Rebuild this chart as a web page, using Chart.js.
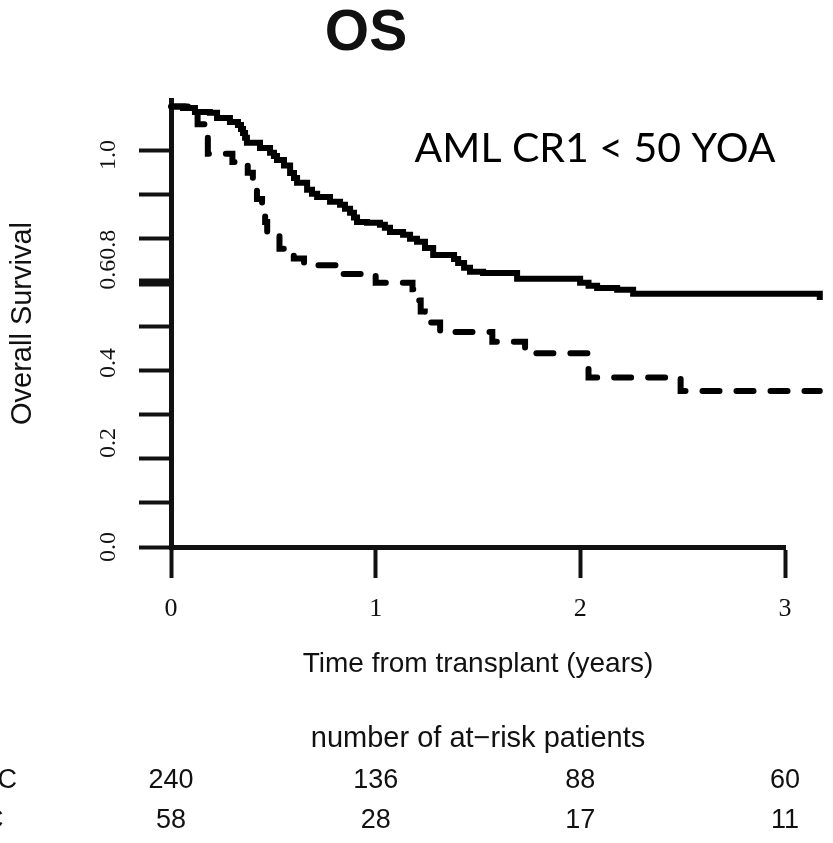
<!DOCTYPE html>
<html>
<head>
<meta charset="utf-8">
<title>OS</title>
<script src="https://cdn.jsdelivr.net/npm/chart.js@4"></script>
<style>
  html, body { margin: 0; padding: 0; background: #fff; }
  #wrap { width: 833px; height: 843px; }
</style>
</head>
<body>
<div id="wrap"><canvas id="os-chart" width="833" height="843"></canvas></div>
<script>
// Kaplan-Meier steps: time (years) where survival drops to the given value
const macTime = [0, 0.059, 0.117, 0.19, 0.225, 0.288, 0.327, 0.342, 0.352, 0.362, 0.371, 0.435, 0.484, 0.503, 0.518, 0.552, 0.582, 0.601, 0.616, 0.665, 0.689, 0.714, 0.777, 0.826, 0.85, 0.875, 0.894, 0.909, 0.958, 1.021, 1.045, 1.07, 1.134, 1.168, 1.202, 1.241, 1.281, 1.383, 1.403, 1.432, 1.461, 1.525, 1.691, 1.999, 2.04, 2.082, 2.18, 2.258, 3.17, 3.20];
const macSurv = [1.0, 0.997, 0.988, 0.986, 0.974, 0.965, 0.958, 0.949, 0.940, 0.929, 0.918, 0.906, 0.895, 0.888, 0.879, 0.866, 0.849, 0.838, 0.827, 0.811, 0.802, 0.795, 0.784, 0.777, 0.768, 0.759, 0.748, 0.738, 0.736, 0.732, 0.725, 0.715, 0.709, 0.700, 0.693, 0.679, 0.663, 0.654, 0.645, 0.634, 0.625, 0.622, 0.609, 0.600, 0.593, 0.588, 0.584, 0.575, 0.561, 0.561];

const ricTime = [0, 0.13, 0.18, 0.30, 0.375, 0.40, 0.42, 0.445, 0.46, 0.47, 0.53, 0.60, 0.65, 0.83, 1.00, 1.18, 1.20, 1.22, 1.24, 1.315, 1.57, 1.73, 2.04, 2.49, 3.17];
const ricSurv = [1.0, 0.96, 0.893, 0.874, 0.85, 0.815, 0.79, 0.772, 0.738, 0.713, 0.677, 0.655, 0.640, 0.620, 0.600, 0.585, 0.56, 0.535, 0.51, 0.488, 0.466, 0.44, 0.385, 0.354, 0.354];

// axes
const xTicks = [0, 1, 2, 3];
const yTickMarks = [0, 0.1, 0.2, 0.3, 0.4, 0.5, 0.6, 0.7, 0.8, 0.9];
const yThickTicks = [0.6];
const yLabelPos = [0, 0.236, 0.418, 0.652, 0.89];
const yLabelText = ['0.0', '0.2', '0.4', '0.60.8', '1.0'];

// number at risk under the x axis
const groups = ['MAC', 'RIC'];
const macAtRisk = [240, 136, 88, 60];
const ricAtRisk = [58, 28, 17, 11];

const note = 'AML CR1 < 50 YOA';
const noteAt = [1.19, 0.874];

const ink = '#111';
const serif = 'Liberation Serif';
const sans = 'Liberation Sans';
const riskFont = 27;
const riskPad = 8;

const setTicks = (values) => (scale) => {
  scale.ticks = values.map((v) => ({ value: v }));
};

const toPoints = (xs, ys) => xs.map((t, i) => ({ x: t, y: ys[i] }));

// titles, annotation and the clipped group names on the left
const textPlugin = {
  id: 'plotText',
  afterDraw(chart) {
    const { ctx, scales } = chart;
    ctx.save();
    ctx.fillStyle = ink;
    ctx.textBaseline = 'alphabetic';
    ctx.textAlign = 'center';
    ctx.font = 'bold 57px "' + sans + '"';
    ctx.fillText('OS', 366, 50);

    ctx.textAlign = 'left';
    ctx.font = '41px Lato';
    ctx.fillStyle = '#000';
    ctx.fillText(note, scales.x.getPixelForValue(noteAt[0]), scales.y.getPixelForValue(noteAt[1]));

    ctx.fillStyle = ink;
    ctx.font = riskFont + 'px "' + sans + '"';
    ctx.textBaseline = 'middle';
    ['xMac', 'xRic'].forEach((id, i) => {
      const s = scales[id];
      ctx.fillText(groups[i], -43, s.top + riskPad + riskFont * 0.6);
    });
    ctx.restore();
  }
};

const riskAxis = (counts, weight) => ({
  type: 'linear',
  position: 'bottom',
  min: 0,
  max: 3,
  weight: weight,
  afterBuildTicks: setTicks(xTicks),
  ticks: {
    autoSkip: false,
    padding: riskPad,
    color: ink,
    font: { family: sans, size: riskFont },
    callback: (v, i) => String(counts[i])
  },
  grid: { display: false, drawTicks: false },
  border: { display: false },
  afterFit: (s) => { s.height = 40; }
});

new Chart(document.getElementById('os-chart'), {
  type: 'line',
  data: {
    datasets: [
      {
        label: groups[0],
        data: toPoints(macTime, macSurv),
        borderColor: '#000',
        borderWidth: 6,
        stepped: true,
        pointRadius: 0,
        clip: false
      },
      {
        label: groups[1],
        data: toPoints(ricTime, ricSurv),
        borderColor: '#000',
        borderWidth: 6,
        borderDash: [17, 17],
        borderCapStyle: 'round',
        stepped: true,
        pointRadius: 0,
        clip: false
      }
    ]
  },
  options: {
    responsive: false,
    animation: false,
    devicePixelRatio: 1,
    layout: { padding: { top: 100, left: 3, right: 48, bottom: 7 } },
    plugins: {
      legend: { display: false },
      tooltip: { enabled: false }
    },
    scales: {
      x: {
        type: 'linear',
        position: 'bottom',
        min: 0,
        max: 3,
        weight: 0,
        afterBuildTicks: setTicks(xTicks),
        ticks: {
          autoSkip: false,
          padding: 16,
          color: ink,
          font: { family: serif, size: 26 },
          callback: (v) => String(v)
        },
        grid: { drawOnChartArea: false, tickLength: 31, tickWidth: 4, tickColor: ink },
        border: { display: true, width: 5, color: ink },
        title: {
          display: true,
          text: 'Time from transplant (years)',
          color: ink,
          font: { family: sans, size: 28 },
          padding: { top: 0, bottom: 0 }
        },
        afterFit: (s) => { s.height = 134; }
      },
      xHead: {
        type: 'linear',
        position: 'bottom',
        min: 0,
        max: 3,
        weight: 1,
        ticks: { display: false },
        grid: { display: false, drawTicks: false },
        border: { display: false },
        title: {
          display: true,
          text: 'number of at\u2212risk patients',
          color: ink,
          font: { family: sans, size: 29 },
          padding: { top: 0, bottom: 0 }
        },
        afterFit: (s) => { s.height = 75; }
      },
      xMac: riskAxis(macAtRisk, 2),
      xRic: riskAxis(ricAtRisk, 3),
      yLab: {
        type: 'linear',
        position: 'left',
        min: 0,
        max: 1.015,
        weight: 1,
        afterBuildTicks: setTicks(yLabelPos),
        ticks: {
          autoSkip: false,
          minRotation: 90,
          maxRotation: 90,
          crossAlign: 'center',
          padding: 0,
          color: ink,
          font: { family: serif, size: 24 },
          callback: (v, i) => yLabelText[i]
        },
        grid: { display: false, drawTicks: false },
        border: { display: false },
        title: {
          display: true,
          text: 'Overall Survival',
          color: ink,
          font: { family: sans, size: 29 },
          padding: { top: 3, bottom: 0 }
        },
        afterFit: (s) => { s.width = 136; }
      },
      y: {
        type: 'linear',
        position: 'left',
        min: 0,
        max: 1.015,
        weight: 0,
        afterBuildTicks: setTicks(yTickMarks),
        ticks: { display: false },
        grid: {
          drawOnChartArea: false,
          tickLength: 32,
          tickWidth: (c) => (c.tick && yThickTicks.includes(c.tick.value) ? 8 : 4),
          tickColor: ink
        },
        border: { display: true, width: 5, color: ink },
        afterFit: (s) => { s.width = 32; }
      }
    }
  },
  plugins: [textPlugin]
});
</script>
</body>
</html>
